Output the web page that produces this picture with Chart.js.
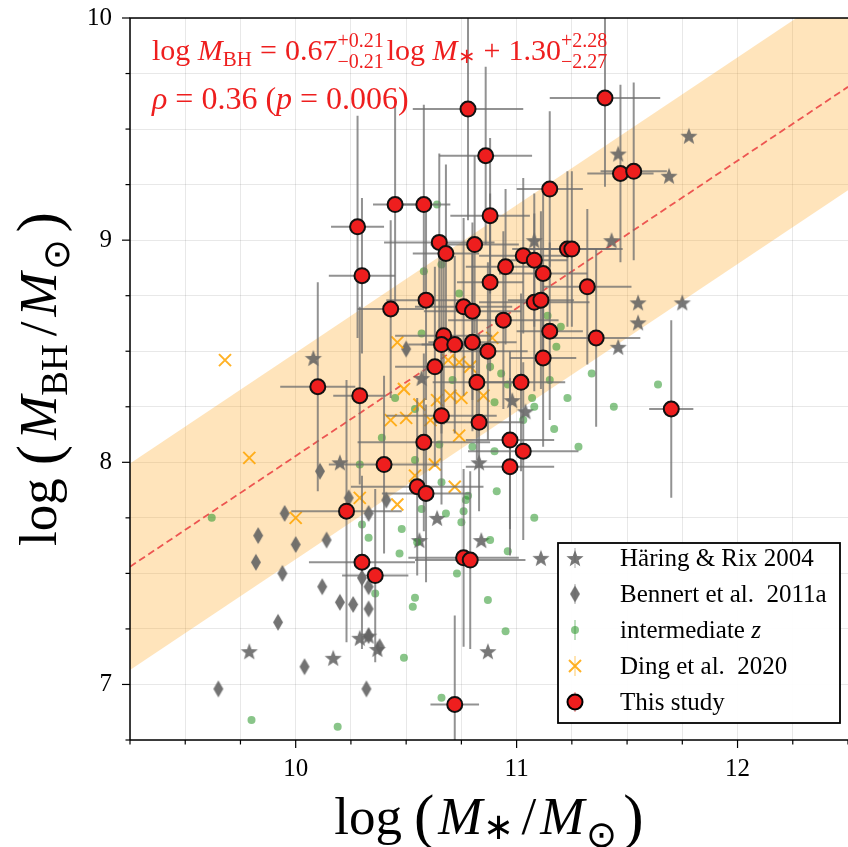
<!DOCTYPE html>
<html>
<head>
<meta charset="utf-8">
<script src="https://cdn.jsdelivr.net/npm/chart.js@4.4.1/dist/chart.umd.min.js"></script>
<style>
  html, body { margin: 0; padding: 0; background: #fff; overflow: hidden; }
  canvas { display: block; }
</style>
</head>
<body>
<canvas id="c" width="848" height="847"></canvas>
<script>
// 本研究 (This study)
var thisX = [10.78, 11.40, 10.86, 11.47, 11.53, 11.15, 10.45, 10.58, 10.88, 10.28,
  10.65, 10.81, 10.68, 11.23, 11.25, 11.03, 11.08, 10.95, 11.12, 10.30,
  10.88, 11.32, 10.59, 10.43, 10.76, 10.80, 11.08, 11.11, 10.94, 10.67,
  10.66, 10.72, 10.80, 11.15, 10.87, 11.36, 11.12, 10.63, 10.10, 10.29,
  10.82, 11.02, 11.70, 10.66, 10.83, 10.58, 10.97, 11.03, 10.40, 10.97,
  10.55, 10.59, 10.23, 10.30, 10.36, 10.76, 10.79, 10.72];
var thisY = [9.59, 9.64, 9.38, 9.30, 9.31, 9.23, 9.16, 9.16, 9.11, 9.06,
  8.99, 8.98, 8.94, 8.96, 8.96, 8.93, 8.91, 8.88, 8.85, 8.84,
  8.81, 8.79, 8.73, 8.69, 8.70, 8.68, 8.72, 8.73, 8.64, 8.57,
  8.53, 8.53, 8.54, 8.59, 8.50, 8.56, 8.47, 8.43, 8.34, 8.30,
  8.36, 8.36, 8.24, 8.21, 8.18, 8.09, 8.10, 8.05, 7.99, 7.98,
  7.89, 7.86, 7.78, 7.55, 7.49, 7.57, 7.56, 6.91];
var thisXerr = [0.25, 0.25, 0.21, 0.15, 0.15, 0.15, 0.10, 0.12, 0.18, 0.12,
  0.25, 0.20, 0.15, 0.25, 0.20, 0.20, 0.15, 0.18, 0.20, 0.15,
  0.15, 0.20, 0.18, 0.15, 0.22, 0.22, 0.25, 0.15, 0.25, 0.22,
  0.15, 0.15, 0.20, 0.15, 0.18, 0.20, 0.15, 0.18, 0.17, 0.12,
  0.20, 0.20, 0.10, 0.25, 0.20, 0.30, 0.20, 0.25, 0.25, 0.20,
  0.30, 0.20, 0.25, 0.24, 0.15, 0.25, 0.25, 0.11];
var thisYerr = [0.50, 0.40, 0.40, 0.40, 0.40, 0.35, 0.45, 0.45, 0.35, 0.50,
  0.40, 0.40, 0.40, 0.35, 0.35, 0.35, 0.30, 0.35, 0.40, 0.35,
  0.40, 0.35, 0.45, 0.40, 0.40, 0.40, 0.40, 0.40, 0.40, 0.40,
  0.40, 0.40, 0.40, 0.40, 0.40, 0.40, 0.40, 0.45, 0.47, 0.40,
  0.35, 0.40, 0.40, 0.40, 0.40, 0.40, 0.40, 0.40, 0.40, 0.40,
  0.40, 0.40, 0.59, 0.39, 0.39, 0.40, 0.40, 0.40];

// Häring & Rix 2004
var hrX = [10.08, 10.20, 10.57, 10.64, 10.56, 10.83, 10.84, 9.79, 10.17, 10.29,
  10.33, 10.37, 10.87, 11.11, 11.08, 11.46, 11.78, 11.69, 11.43, 11.55,
  11.75, 11.55, 11.46, 10.98, 11.04];
var hrY = [8.47, 8.00, 8.38, 7.75, 7.65, 8.00, 7.65, 7.15, 7.12, 7.21,
  7.22, 7.16, 7.15, 7.57, 9.00, 9.39, 9.47, 9.29, 9.00, 8.72,
  8.72, 8.63, 8.52, 8.28, 8.23];

// Bennert et al. 2011a
var benX = [10.11, 10.50, 9.95, 9.83, 9.82, 10.00, 10.14, 9.94, 10.33, 10.41,
  10.30, 10.33, 10.12, 10.20, 10.26, 10.33, 9.92, 10.33, 10.38, 10.04,
  9.65, 10.32, 10.24];
var benY = [7.96, 8.51, 7.77, 7.67, 7.55, 7.63, 7.65, 7.50, 7.77, 7.83,
  7.48, 7.44, 7.44, 7.37, 7.36, 7.34, 7.28, 7.22, 7.17, 7.08,
  6.98, 6.98, 7.84];

// intermediate z
var midX = [9.62, 10.39, 10.45, 10.54, 10.57, 10.29, 10.54, 10.66, 10.71, 10.65,
  10.30, 10.33, 10.48, 10.47, 10.57, 10.68, 10.76, 10.75, 10.77, 10.78,
  10.36, 10.54, 10.53, 10.73, 10.87, 10.49, 10.66, 9.80, 10.19, 10.88,
  10.64, 10.66, 10.58, 10.74, 11.14, 11.20, 11.18, 10.88, 10.93, 11.15,
  10.96, 11.34, 11.64, 10.90, 11.07, 11.08, 11.23, 11.44, 11.03, 11.17,
  11.28, 10.80, 10.90, 10.91, 10.55, 10.96, 11.08, 10.95];
var midY = [7.75, 8.11, 8.29, 8.24, 8.58, 7.99, 8.01, 7.91, 8.37, 8.08,
  7.72, 7.66, 7.70, 7.59, 7.79, 7.77, 7.78, 7.73, 7.83, 7.85,
  7.41, 7.39, 7.35, 7.50, 7.38, 7.12, 6.94, 6.84, 6.81, 7.65,
  9.16, 8.89, 8.86, 8.76, 8.66, 8.61, 8.52, 8.43, 8.40, 8.37,
  8.35, 8.40, 8.35, 8.27, 8.29, 8.25, 8.29, 8.25, 8.19, 8.15,
  8.07, 8.07, 8.05, 7.87, 7.64, 7.60, 7.75, 7.24];

// Ding et al. 2020
var dingX = [9.68, 9.79, 10.00, 10.29, 10.46, 10.54, 10.63, 10.72, 10.49, 10.43,
  10.50, 10.74, 10.46, 10.69, 10.74, 10.79, 10.70, 10.75, 10.61, 10.89,
  10.85, 10.64, 10.56];
var dingY = [8.46, 8.02, 7.75, 7.84, 7.81, 7.94, 7.99, 7.89, 8.33, 8.19,
  8.20, 8.12, 8.54, 8.46, 8.45, 8.43, 8.30, 8.29, 8.19, 8.56,
  8.30, 8.28, 8.26];

// 擬合線與散佈帶
var fitX = [9.25, 12.5];
var fitY = [7.53, 9.69];
var bandLow = [7.065, 9.225];
var bandHigh = [7.995, 10.155];

var xRange = [9.25, 12.5];
var yRange = [6.75, 10];
var xLabels = [10, 11, 12];
var yLabels = [7, 8, 9, 10];

var SERIF = '"Liberation Serif", "Times New Roman", serif';

function pts(xs, ys) {
  return xs.map(function (x, i) { return { x: x, y: ys[i] }; });
}

// 星形記號
function starCanvas(r, color) {
  var c = document.createElement('canvas');
  c.width = c.height = Math.ceil(2 * r + 2);
  var g = c.getContext('2d');
  g.translate(c.width / 2, c.height / 2 + 1);
  g.beginPath();
  for (var k = 0; k < 10; k++) {
    var rad = k % 2 === 0 ? r : r * 0.42;
    var a = -Math.PI / 2 + k * Math.PI / 5;
    g.lineTo(rad * Math.cos(a), rad * Math.sin(a));
  }
  g.closePath();
  g.fillStyle = color;
  g.fill();
  return c;
}
// 細菱形記號
function diamondCanvas(w, h, color) {
  var c = document.createElement('canvas');
  c.width = w + 2; c.height = h + 2;
  var g = c.getContext('2d');
  g.beginPath();
  g.moveTo(c.width / 2, 1);
  g.lineTo(c.width - 1, c.height / 2);
  g.lineTo(c.width / 2, c.height - 1);
  g.lineTo(1, c.height / 2);
  g.closePath();
  g.fillStyle = color;
  g.fill();
  return c;
}

var starImg = starCanvas(9, 'rgba(95,95,95,0.85)');
var diaImg = diamondCanvas(10, 17, 'rgba(100,100,100,0.9)');

var RED = 'rgb(238,30,30)';
var GREEN = 'rgba(40,150,40,0.55)';
var ORANGE = 'rgba(255,165,0,0.85)';

function isInt(v) { return Math.abs(v - Math.round(v)) < 1e-6; }

// 誤差棒
var errPlugin = {
  id: 'errbars',
  beforeDatasetDraw: function (chart, args) {
    if (args.index !== 0) return;
    var xs = chart.scales.x, ys = chart.scales.y, ctx = chart.ctx, a = chart.chartArea;
    ctx.save();
    ctx.beginPath();
    ctx.rect(a.left, a.top, a.right - a.left, a.bottom - a.top);
    ctx.clip();
    ctx.strokeStyle = 'rgba(110,110,110,0.75)';
    ctx.lineWidth = 2;
    for (var i = 0; i < thisX.length; i++) {
      var px = xs.getPixelForValue(thisX[i]), py = ys.getPixelForValue(thisY[i]);
      ctx.beginPath();
      ctx.moveTo(xs.getPixelForValue(thisX[i] - thisXerr[i]), py);
      ctx.lineTo(xs.getPixelForValue(thisX[i] + thisXerr[i]), py);
      ctx.moveTo(px, ys.getPixelForValue(thisY[i] - thisYerr[i]));
      ctx.lineTo(px, ys.getPixelForValue(thisY[i] + thisYerr[i]));
      ctx.stroke();
    }
    ctx.restore();
  }
};

// 公式文字
function rich(ctx, x, y, parts, size, draw) {
  var cx = x;
  parts.forEach(function (p) {
    if (p.stack) {
      ctx.font = Math.round(size * 0.66) + 'px ' + SERIF;
      var w1 = ctx.measureText(p.stack[0]).width, w2 = ctx.measureText(p.stack[1]).width;
      if (draw) {
        ctx.fillText(p.stack[0], cx, y - size * 0.42);
        ctx.fillText(p.stack[1], cx, y + size * 0.27);
      }
      cx += Math.max(w1, w2) + 3;
    } else {
      var s = p.sub ? Math.round(size * 0.7) : (p.big ? Math.round(size * 1.15) : size);
      ctx.font = (p.i ? 'italic ' : '') + s + 'px ' + SERIF;
      var dy = p.sub ? size * (p.dy || 0.2) : (p.big ? size * 0.06 : 0);
      if (draw) ctx.fillText(p.t, cx + (p.pre || 0), y + dy);
      cx += ctx.measureText(p.t).width + (p.gap || 0) + (p.pre || 0);
    }
  });
  return cx - x;
}

var decoPlugin = {
  id: 'deco',
  afterDraw: function (chart) {
    var ctx = chart.ctx, a = chart.chartArea, xs = chart.scales.x, ys = chart.scales.y;
    ctx.save();
    // 外框與刻度
    ctx.strokeStyle = '#000';
    ctx.lineWidth = 1.5;
    ctx.beginPath();
    ctx.moveTo(a.left, a.bottom); ctx.lineTo(a.left, a.top); ctx.lineTo(a.right, a.top);
    ctx.moveTo(a.left, a.bottom); ctx.lineTo(a.right, a.bottom);
    ctx.stroke();
    ctx.lineWidth = 1.2;
    xs.ticks.forEach(function (t) {
      var p = xs.getPixelForValue(t.value), len = isInt(t.value) ? 8 : 4.5;
      ctx.beginPath(); ctx.moveTo(p, a.bottom); ctx.lineTo(p, a.bottom + len); ctx.stroke();
    });
    ys.ticks.forEach(function (t) {
      var p = ys.getPixelForValue(t.value), len = isInt(t.value) ? 8 : 4.5;
      ctx.beginPath(); ctx.moveTo(a.left, p); ctx.lineTo(a.left - len, p); ctx.stroke();
    });

    // 軸標題
    ctx.fillStyle = '#000';
    ctx.textBaseline = 'alphabetic';
    ctx.textAlign = 'left';
    var xt = [{ t: 'log', gap: 12 }, { t: '(', big: true, gap: 4 }, { t: 'M', i: true }, { t: '∗', sub: true, dy: 0.1, gap: 8 },
      { t: '/', gap: 4 }, { t: 'M', i: true, gap: 2 }, { t: '⊙', sub: true, dy: 0.25, gap: 6 }, { t: ')', big: true }];
    var w = rich(ctx, 0, 0, xt, 53, false);
    rich(ctx, (a.left + a.right) / 2 - w / 2, 834, xt, 53, true);

    var yt = [{ t: 'log', gap: 13 }, { t: '(', big: true, gap: 5 }, { t: 'M', i: true }, { t: 'BH', sub: true, gap: 8 },
      { t: '/', gap: 5 }, { t: 'M', i: true, gap: 2 }, { t: '⊙', sub: true, dy: 0.25, gap: 7 }, { t: ')', big: true }];
    ctx.save();
    ctx.translate(56, (a.top + a.bottom) / 2);
    ctx.rotate(-Math.PI / 2);
    w = rich(ctx, 0, 0, yt, 53, false);
    rich(ctx, -w / 2, 0, yt, 53, true);
    ctx.restore();

    // 擬合結果
    ctx.fillStyle = RED;
    rich(ctx, 152, 60, [{ t: 'log ' }, { t: 'M', i: true }, { t: 'BH', sub: true, gap: 8 }, { t: '=', gap: 8 }, { t: '0.67' },
      { stack: ['+0.21', '−0.21'] }, { t: 'log ' }, { t: 'M', i: true }, { t: '∗', sub: true, dy: 0.1, gap: 8 },
      { t: '+', gap: 8 }, { t: '1.30' }, { stack: ['+2.28', '−2.27'] }], 30, true);
    rich(ctx, 152, 109, [{ t: 'ρ', i: true, gap: 8 }, { t: '=', gap: 8 }, { t: '0.36 (' }, { t: 'p', i: true, gap: 8 },
      { t: '=', gap: 8 }, { t: '0.006)' }], 32, true);

    // 圖例
    var lx = 558, ly = 543, lw = 282, lh = 180;
    ctx.fillStyle = 'rgba(255,255,255,0.95)';
    ctx.fillRect(lx, ly, lw, lh);
    ctx.strokeStyle = '#000';
    ctx.lineWidth = 1.8;
    ctx.strokeRect(lx, ly, lw, lh);
    var rows = [
      { label: [{ t: 'Häring & Rix 2004' }], kind: 'star', line: 'rgba(110,110,110,0.3)' },
      { label: [{ t: 'Bennert et al.  2011a' }], kind: 'dia', line: 'rgba(110,110,110,0.3)' },
      { label: [{ t: 'intermediate ' }, { t: 'z', i: true }], kind: 'green', line: 'rgba(40,150,40,0.3)' },
      { label: [{ t: 'Ding et al.  2020' }], kind: 'x', line: 'rgba(255,165,0,0.3)' },
      { label: [{ t: 'This study' }], kind: 'red', line: 'rgba(238,30,30,0.3)' }
    ];
    rows.forEach(function (r, i) {
      var my = 558 + i * 36, mx = 575;
      ctx.strokeStyle = r.line;
      ctx.lineWidth = 2;
      ctx.beginPath(); ctx.moveTo(mx, my - 10); ctx.lineTo(mx, my + 10); ctx.stroke();
      if (r.kind === 'star') ctx.drawImage(starImg, mx - starImg.width / 2, my - starImg.height / 2);
      if (r.kind === 'dia') ctx.drawImage(diaImg, mx - diaImg.width / 2, my - diaImg.height / 2);
      if (r.kind === 'green') {
        ctx.fillStyle = GREEN; ctx.beginPath(); ctx.arc(mx, my, 4, 0, Math.PI * 2); ctx.fill();
      }
      if (r.kind === 'x') {
        ctx.strokeStyle = ORANGE; ctx.lineWidth = 2; ctx.beginPath();
        ctx.moveTo(mx - 6, my - 6); ctx.lineTo(mx + 6, my + 6);
        ctx.moveTo(mx + 6, my - 6); ctx.lineTo(mx - 6, my + 6); ctx.stroke();
      }
      if (r.kind === 'red') {
        ctx.fillStyle = RED; ctx.strokeStyle = '#000'; ctx.lineWidth = 2;
        ctx.beginPath(); ctx.arc(mx, my, 7.5, 0, Math.PI * 2); ctx.fill(); ctx.stroke();
      }
      ctx.fillStyle = '#000';
      rich(ctx, 620, my + 8, r.label, 25, true);
    });
    ctx.restore();
  }
};

function noPad(s) { s.paddingTop = 0; s.paddingBottom = 0; s.paddingLeft = 0; s.paddingRight = 0; }

new Chart(document.getElementById('c'), {
  type: 'scatter',
  data: {
    datasets: [{
      label: 'This study',
      data: pts(thisX, thisY),
      pointRadius: 7.5,
      pointBackgroundColor: RED,
      pointBorderColor: '#111',
      pointBorderWidth: 2
    }, {
      label: 'Ding et al. 2020',
      data: pts(dingX, dingY),
      pointStyle: 'crossRot',
      pointRadius: 8.5,
      pointBorderColor: ORANGE,
      pointBorderWidth: 2
    }, {
      label: 'intermediate z',
      data: pts(midX, midY),
      pointRadius: 4,
      pointBackgroundColor: GREEN,
      pointBorderWidth: 0
    }, {
      label: 'Bennert et al. 2011a',
      data: pts(benX, benY),
      pointStyle: diaImg
    }, {
      label: 'Häring & Rix 2004',
      data: pts(hrX, hrY),
      pointStyle: starImg
    }, {
      label: 'fit',
      data: pts(fitX, fitY),
      showLine: true,
      borderColor: 'rgba(235,70,70,0.9)',
      borderWidth: 1.8,
      borderDash: [7, 4],
      pointRadius: 0,
      fill: false
    }, {
      label: 'band high',
      data: pts(fitX, bandHigh),
      showLine: true,
      borderWidth: 0,
      borderColor: 'rgba(0,0,0,0)',
      pointRadius: 0,
      backgroundColor: 'rgba(255,165,30,0.3)',
      fill: '+1'
    }, {
      label: 'band low',
      data: pts(fitX, bandLow),
      showLine: true,
      borderWidth: 0,
      borderColor: 'rgba(0,0,0,0)',
      pointRadius: 0,
      fill: false
    }]
  },
  options: {
    responsive: false,
    animation: false,
    events: [],
    layout: { autoPadding: false, padding: { top: 18, right: 0, left: 0, bottom: 0 } },
    plugins: { legend: { display: false }, tooltip: { enabled: false } },
    scales: {
      x: {
        type: 'linear',
        min: xRange[0], max: xRange[1],
        afterFit: function (s) { s.height = 107; noPad(s); },
        border: { display: false },
        grid: { color: 'rgba(0,0,0,0.09)', lineWidth: 1, drawTicks: false },
        ticks: {
          stepSize: 0.25, padding: 14, color: '#000', maxRotation: 0, autoSkip: false,
          font: { family: SERIF, size: 25 },
          callback: function (v) { return isInt(v) && xLabels.indexOf(Math.round(v)) >= 0 ? String(Math.round(v)) : ''; }
        }
      },
      y: {
        type: 'linear',
        min: yRange[0], max: yRange[1],
        afterFit: function (s) { s.width = 130; noPad(s); },
        border: { display: false },
        grid: { color: 'rgba(0,0,0,0.09)', lineWidth: 1, drawTicks: false },
        ticks: {
          stepSize: 0.25, padding: 18, color: '#000', autoSkip: false,
          font: { family: SERIF, size: 25 },
          callback: function (v) { return isInt(v) && yLabels.indexOf(Math.round(v)) >= 0 ? String(Math.round(v)) : ''; }
        }
      }
    }
  },
  plugins: [errPlugin, decoPlugin]
});
</script>
</body>
</html>
